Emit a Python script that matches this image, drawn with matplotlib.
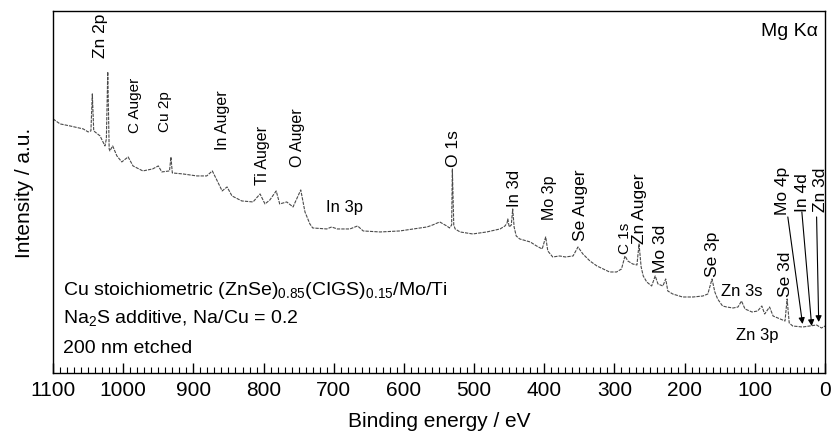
import matplotlib
matplotlib.use("Agg")
import matplotlib.pyplot as plt
from matplotlib.ticker import MultipleLocator

plt.rcParams['font.family'] = ['Liberation Sans', 'DejaVu Sans']
plt.rcParams['mathtext.fontset'] = 'custom'
plt.rcParams['mathtext.rm'] = 'Liberation Sans'
plt.rcParams['mathtext.default'] = 'regular'

# XPS survey (binding energy in eV, intensity in a.u.)
energy = [1100, 1090, 1076, 1057, 1050, 1046, 1044, 1042, 1033, 1026, 1024,
          1022, 1020, 1019, 1015, 1009, 1002, 993, 986, 972, 958, 950, 945,
          934, 932, 930, 915, 895, 881, 873, 866, 859, 852, 845, 831, 815,
          805, 798, 791, 782, 777, 767, 758, 747, 741, 734, 730, 710, 703,
          695, 677, 666, 658, 634, 606, 587, 567, 559, 549, 539, 535, 532,
          531, 529, 527, 520, 502, 482, 463, 456, 453, 452, 450, 447, 445,
          443, 440, 435, 420, 411, 403, 398, 395, 388, 378, 370, 359, 352,
          345, 335, 325, 316, 307, 297, 290, 285, 281, 274, 268, 265, 262,
          259, 254, 247, 242, 238, 231, 227, 224, 217, 203, 188, 174, 167,
          161, 157, 153, 146, 140, 131, 124, 119, 114, 104, 96, 90, 86, 79,
          74, 64, 57, 54, 51, 46, 32, 22, 12, 5, 0]
intensity = [254, 249, 247, 244, 241, 242, 279, 242, 237, 227, 234,
             301, 224, 222, 227, 217, 211, 216, 207, 202, 204, 207, 201,
             202, 216, 200, 199, 197, 197, 202, 192, 182, 186, 177, 172, 171,
             179, 169, 173, 182, 169, 171, 166, 183, 161, 149, 145, 144, 146,
             144, 144, 147, 142, 141, 142, 144, 146, 148, 151, 147, 145, 148,
             204, 148, 144, 141, 139, 141, 144, 147, 150, 154, 146, 148, 164,
             146, 137, 134, 131, 127, 124, 136, 122, 116, 117, 116, 117, 126,
             119, 112, 107, 104, 101, 101, 104, 117, 112, 109, 108, 129, 106,
             97, 91, 87, 97, 89, 87, 94, 82, 79, 76, 76, 77, 79,
             94, 81, 74, 67, 66, 65, 66, 72, 64, 61, 62, 67, 59, 66,
             57, 54, 52, 74, 50, 47, 46, 47, 48, 45, 47]

# peak assignments
vertical_peaks = ["Zn 2p", "C Auger", "Cu 2p", "In Auger", "Ti Auger",
                  "O Auger", "O 1s", "In 3d", "Mo 3p", "Se Auger", "C 1s",
                  "Zn Auger", "Mo 3d", "Se 3p", "Se 3d", "Mo 4p", "In 4d",
                  "Zn 3d"]
horizontal_peaks = ["In 3p", "Zn 3s", "Zn 3p"]
arrow_peaks = ["Mo 4p", "In 4d", "Zn 3d"]
sample_text = ["Cu stoichiometric (ZnSe)$_{0.85}$(CIGS)$_{0.15}$/Mo/Ti",
               "Na$_{2}$S additive, Na/Cu = 0.2",
               "200 nm etched"]

fig = plt.figure(figsize=(8.31, 4.39), dpi=100)
ax = fig.add_axes([0.0638, 0.148, 0.929, 0.825])

ax.plot(energy, intensity, color='#4a4a4a', lw=0.8, ls=(0, (3, 1)))

ax.set_xlim(1100, 0)
ax.set_ylim(0, 362)
ax.set_yticks([])
ax.xaxis.set_major_locator(MultipleLocator(100))
ax.xaxis.set_minor_locator(MultipleLocator(10))
ax.tick_params(axis='x', which='major', direction='in', length=7, width=1,
               labelsize=15, pad=5)
ax.tick_params(axis='x', which='minor', direction='in', length=4, width=0.8)
for s in ax.spines.values():
    s.set_linewidth(1.0)

ax.set_xlabel("Binding energy / eV", fontsize=15, labelpad=9)
ax.set_ylabel("Intensity / a.u.", fontsize=15, labelpad=14)

# label placement (x in eV, bottom of text in a.u., font size)
vlabel_pos = [(1033, 316, 12.5), (983, 241, 11), (940, 242, 11),
              (859, 224, 11.5), (801, 189, 11.5), (751, 207, 11.5),
              (529, 207, 12.5), (442, 167, 12), (392, 154, 11.5),
              (349, 133, 12.5), (285, 120, 11), (264, 130, 12.5),
              (235, 101, 12.5), (160, 97, 12.5), (57, 77, 12.5),
              (60, 159, 12.5), (32, 162, 12.5), (7, 162, 12.5)]
for name, (x, y, fs) in zip(vertical_peaks, vlabel_pos):
    ax.text(x, y, name, rotation=90, ha='center', va='bottom', fontsize=fs)

hlabel_pos = [(684, 166), (118, 82), (96, 39)]
for name, (x, y) in zip(horizontal_peaks, hlabel_pos):
    ax.text(x, y, name, ha='center', va='center', fontsize=12)

arrow_pos = [((53, 156), (32, 49)), ((33, 161), (19, 47)), ((12, 156), (9, 51))]
for name, (tail, head) in zip(arrow_peaks, arrow_pos):
    ax.annotate("", xy=head, xytext=tail,
                arrowprops=dict(arrowstyle='-|>', color='black', lw=0.8,
                                mutation_scale=9, shrinkA=0, shrinkB=0))

ax.text(0.991, 0.945, "Mg K\u03b1", transform=ax.transAxes, ha='right',
        va='center', fontsize=14)
for txt, yy in zip(sample_text, [0.218, 0.141, 0.058]):
    ax.text(0.013, yy, txt, transform=ax.transAxes, ha='left',
            va='baseline', fontsize=14)

fig.savefig("out.png", dpi=100)
